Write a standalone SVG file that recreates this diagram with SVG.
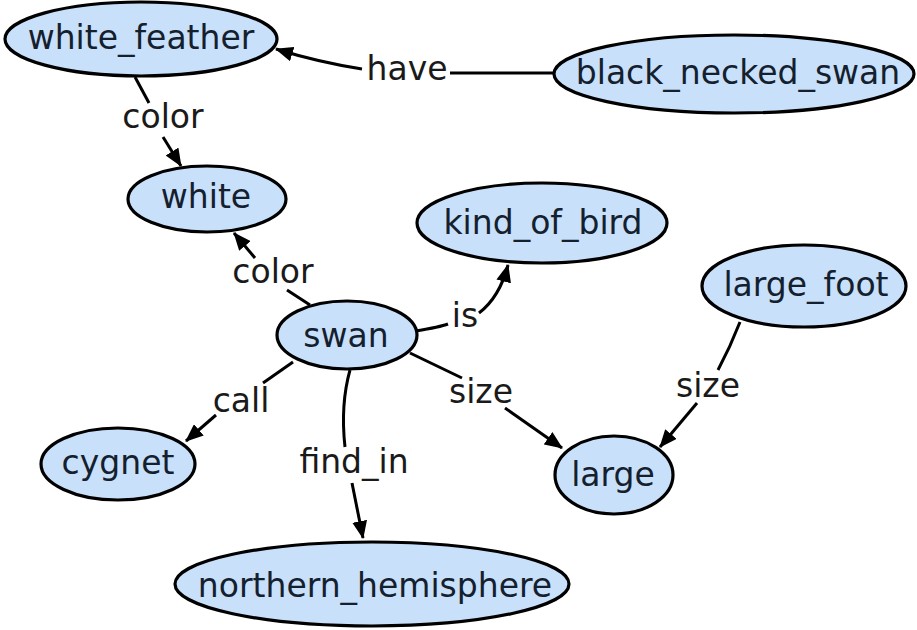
<svg xmlns="http://www.w3.org/2000/svg" width="917" height="630" viewBox="0 0 917 630">
<style>
.node ellipse{fill:#c8e0fa;stroke:#000;stroke-width:3.2}
text{font-family:"DejaVu Sans",Verdana,sans-serif;font-size:33px;text-anchor:middle;fill:#14202e}
.lbl{fill:#1a1a1a}
.edge path{fill:none;stroke:#000;stroke-width:3}
</style>
<defs>
<marker id="arr" markerWidth="18" markerHeight="15" refX="17" refY="7.5" orient="auto" markerUnits="userSpaceOnUse">
<path d="M0,0 L18,7.5 L0,15 z" fill="#000"/>
</marker>
</defs>
<rect width="917" height="630" fill="#fff"/>
<g id="edges" class="edge">
<path d="M553,73 L450,73"/>
<path d="M362,69 C330,64 305,58 276,49" marker-end="url(#arr)"/>
<path d="M135,77 L149,103"/>
<path d="M163,137 L181,166" marker-end="url(#arr)"/>
<path d="M310,305 L287,290"/>
<path d="M255,258 L234,233" marker-end="url(#arr)"/>
<path d="M416,331 C428,329 440,327 448,324"/>
<path d="M479,313 C492,303 502,288 508,265" marker-end="url(#arr)"/>
<path d="M293,362 L263,383"/>
<path d="M216,415 L186,441" marker-end="url(#arr)"/>
<path d="M350,370 C343,395 342,420 345,447"/>
<path d="M352,483 L363,538" marker-end="url(#arr)"/>
<path d="M410,353 L462,378"/>
<path d="M505,408 L562,448" marker-end="url(#arr)"/>
<path d="M740,322 C733,340 726,355 718,370"/>
<path d="M697,403 L660,447" marker-end="url(#arr)"/>
<text class="lbl" x="407" y="80">have</text>
<text class="lbl" x="163" y="128">color</text>
<text class="lbl" x="273" y="283">color</text>
<text class="lbl" x="465" y="327">is</text>
<text class="lbl" x="241" y="412">call</text>
<text class="lbl" x="354" y="473">find_in</text>
<text class="lbl" x="481" y="403">size</text>
<text class="lbl" x="708" y="397">size</text>
</g>
<g id="white_feather" class="node"><ellipse cx="141" cy="39" rx="136" ry="37"/><text x="141" y="49">white_feather</text></g>
<g id="white" class="node"><ellipse cx="207" cy="199" rx="79" ry="33"/><text x="206" y="208">white</text></g>
<g id="black_necked_swan" class="node"><ellipse cx="734" cy="74" rx="180" ry="39"/><text x="738" y="84">black_necked_swan</text></g>
<g id="kind_of_bird" class="node"><ellipse cx="542" cy="223" rx="125" ry="40"/><text x="543" y="234">kind_of_bird</text></g>
<g id="large_foot" class="node"><ellipse cx="804" cy="286" rx="102" ry="41"/><text x="806" y="296">large_foot</text></g>
<g id="swan" class="node"><ellipse cx="347" cy="335" rx="70" ry="34"/><text x="346" y="347">swan</text></g>
<g id="cygnet" class="node"><ellipse cx="118" cy="464" rx="77" ry="36"/><text x="118" y="474">cygnet</text></g>
<g id="large" class="node"><ellipse cx="614" cy="475" rx="59" ry="39"/><text x="613" y="486">large</text></g>
<g id="northern_hemisphere" class="node"><ellipse cx="372" cy="584" rx="197" ry="42"/><text x="375" y="597">northern_hemisphere</text></g>
</svg>
